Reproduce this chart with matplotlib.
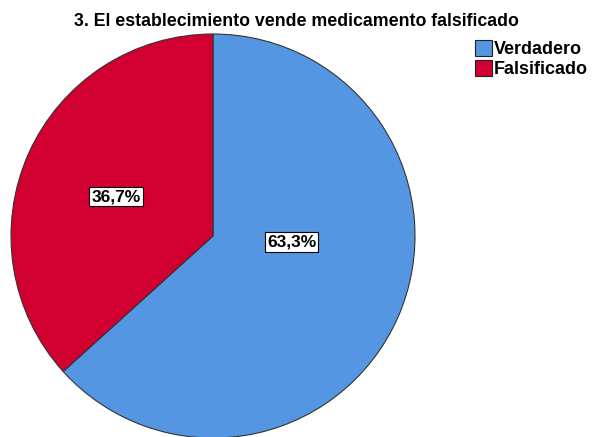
import matplotlib.pyplot as plt
from matplotlib.patches import Patch

plt.rcParams['font.family'] = ['Liberation Sans', 'DejaVu Sans']

# data
categories = ["Verdadero", "Falsificado"]
percents = [63.3, 36.7]
pct_labels = ["63,3%", "36,7%"]
colors = ["#5596E3", "#D20030"]
title = "3. El establecimiento vende medicamento falsificado"

fig = plt.figure(figsize=(5.92, 4.37), dpi=100)
W, H = 592, 437
cx, cy, r = 213, 236, 202
ax = fig.add_axes([(cx - r) / W, (H - cy - r) / H, 2 * r / W, 2 * r / H])

wedges, _ = ax.pie(percents, colors=colors, startangle=90, counterclock=False,
                   radius=1, wedgeprops=dict(edgecolor="#333333", linewidth=0.8))
ax.set_xlim(-1, 1)
ax.set_ylim(-1, 1)
ax.set_aspect("equal")
ax.axis("off")

# label spots (SPSS style placement)
label_pos = [(0.39, -0.03), (-0.48, 0.195)]
for (x, y), txt in zip(label_pos, pct_labels):
    ax.text(x, y, txt, ha="center", va="center", fontsize=12.5, fontweight="bold",
            bbox=dict(boxstyle="square,pad=0.12", fc="white", ec="black", lw=0.8))

fig.text(0.5, 0.951, title, ha="center", va="center", fontsize=12.8, fontweight="bold")

handles = [Patch(facecolor=c, edgecolor="#222222", linewidth=0.8) for c in colors]
fig.legend(handles, categories, loc="upper left", bbox_to_anchor=(0.802, 0.908),
           frameon=False, prop=dict(size=13, weight="bold"),
           handlelength=0.95, handleheight=0.95,
           handletextpad=0.12, labelspacing=0.1, borderpad=0, borderaxespad=0)

fig.savefig("out.png", dpi=100)
